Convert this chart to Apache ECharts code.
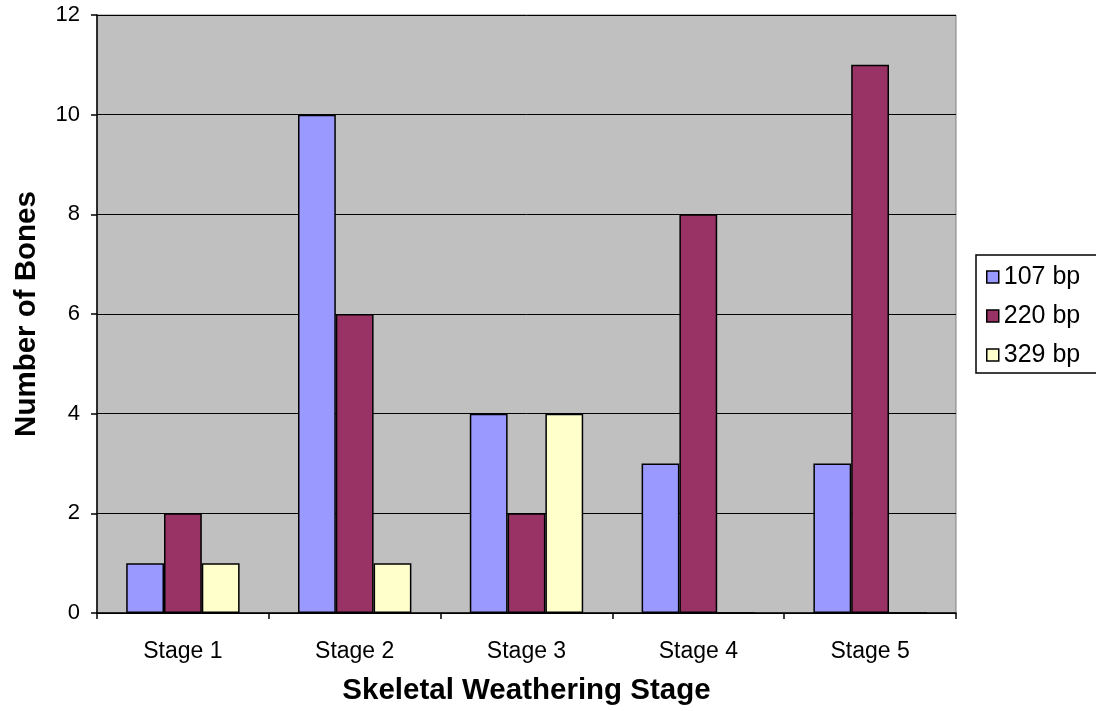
<!DOCTYPE html>
<html>
<head>
<meta charset="utf-8">
<script src="https://cdn.jsdelivr.net/npm/echarts@6/dist/echarts.min.js"></script>
<style>html,body{margin:0;padding:0;background:#fff;}#c{width:1096px;height:711px;}</style>
</head>
<body>
<div id="c"></div>
<script>
const categories = ["Stage 1", "Stage 2", "Stage 3", "Stage 4", "Stage 5"];
const seriesNames = ["107 bp", "220 bp", "329 bp"];
const values107 = [1, 10, 4, 3, 3];
const values220 = [2, 6, 2, 8, 11];
const values329 = [1, 1, 4, 0, 0];
const colors = ["#9999FF", "#993366", "#FFFFCC"];
const yTicks = { min: 0, max: 12, interval: 2 };

const font = "'Liberation Sans', Arial, sans-serif";
const chart = echarts.init(document.getElementById('c'), null, { renderer: 'canvas' });
const dataSets = [values107, values220, values329];
chart.setOption({
  animation: false,
  backgroundColor: '#ffffff',
  textStyle: { fontFamily: font, color: '#000' },
  grid: {
    left: 97, top: 15, right: 140, bottom: 97,
    show: true, backgroundColor: '#C0C0C0', borderColor: '#808080', borderWidth: 1
  },
  legend: {
    orient: 'vertical',
    left: 976, top: 255,
    borderColor: '#000', borderWidth: 1.5,
    padding: [9, 40, 5, 10],
    itemGap: 13,
    itemWidth: 12, itemHeight: 12,
    itemTextGap: 21,
    icon: 'rect',
    itemStyle: { borderColor: '#000', borderWidth: 1.5 },
    textStyle: { fontSize: 25, lineHeight: 26, fontFamily: font, color: '#000' },
    data: seriesNames
  },
  xAxis: {
    type: 'category',
    data: categories,
    name: 'Skeletal Weathering Stage',
    nameLocation: 'middle',
    nameGap: 63,
    nameTextStyle: { fontSize: 29.5, fontWeight: 'bold', fontFamily: font, color: '#000' },
    axisLine: { lineStyle: { color: '#000', width: 1.5 } },
    axisTick: { show: true, alignWithLabel: false, length: 6, lineStyle: { color: '#000', width: 1.5 } },
    axisLabel: { fontSize: 23, margin: 27, color: '#000', fontFamily: font },
    splitLine: { show: false }
  },
  yAxis: {
    type: 'value',
    min: yTicks.min, max: yTicks.max, interval: yTicks.interval,
    name: 'Number of Bones',
    nameLocation: 'middle',
    nameGap: 55,
    nameTextStyle: { fontSize: 29.5, fontWeight: 'bold', fontFamily: font, color: '#000' },
    axisLine: { show: true, lineStyle: { color: '#000', width: 1.5 } },
    axisTick: { show: true, length: 6, lineStyle: { color: '#000', width: 1.5 } },
    axisLabel: { fontSize: 22, margin: 17, color: '#000', fontFamily: font },
    splitLine: { show: true, lineStyle: { color: '#000', width: 1 } }
  },
  series: seriesNames.map((n, i) => ({
    name: n,
    type: 'bar',
    data: dataSets[i],
    barGap: '0%',
    barCategoryGap: '34%',
    itemStyle: { color: colors[i], borderColor: '#000', borderWidth: 1.5 }
  }))
});
</script>
</body>
</html>
